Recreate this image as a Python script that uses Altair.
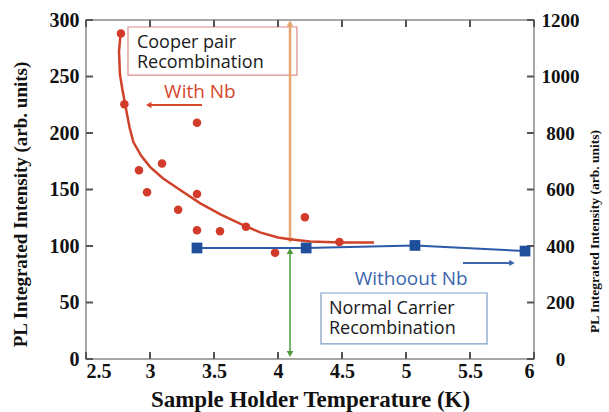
import altair as alt
import pandas as pd

# ---- data ----
with_nb_T = [2.773, 2.80, 2.914, 2.977, 3.094, 3.22, 3.367, 3.367, 3.367, 3.547, 3.75, 3.977, 4.21, 4.48]
with_nb_I = [288, 225.5, 167, 147.5, 173, 132, 209, 146, 114, 113, 117, 94, 125.5, 103.5]

fit_T = [2.770, 2.758, 2.765, 2.785, 2.805, 2.84, 2.87, 2.93, 3.0, 3.1, 3.23, 3.39, 3.55, 3.72, 3.86, 4.0, 4.09, 4.25, 4.5, 4.75]
fit_I = [288, 272, 252, 238, 226, 205, 192, 180, 170, 160, 150, 138, 128, 119, 112, 107.5, 106, 104, 103, 103]

without_nb_T = [3.367, 4.22, 5.07, 5.93]
without_nb_I = [393, 393, 402, 382]

x_ticks = [2.5, 3, 3.5, 4, 4.5, 5, 5.5, 6]
y_left_ticks = [0, 50, 100, 150, 200, 250, 300]
y_right_ticks = [0, 200, 400, 600, 800, 1000, 1200]

# annotations (data coordinates, left axis scale)
box_labels = ["cooper", "normal"]
box_x = [2.828, 4.336]
box_x2 = [4.148, 5.633]
box_y = [251.3, 13.3]
box_y2 = [293.8, 58.4]
box_colors = ["#D98C8A", "#7E9DC8"]

box_text = ["Cooper pair\nRecombination", "Normal Carrier\nRecombination"]
box_text_x = [2.898, 4.398]
box_text_y = [275.2, 39.8]

label_text = ["With Nb", "Withoout Nb"]
label_x = [3.39, 5.04]
label_y = [236, 70.8]
label_colors = ["#D6472C", "#3D66AE"]

varrow_x = [4.094, 4.094]
varrow_y = [105, 4.4]
varrow_y2 = [297, 95.6]
varrow_colors = ["#E8A470", "#4E9A3C"]
varrow_widths = [2.5, 1.5]

harrow_y = [224.8, 85]
harrow_x = [2.99, 5.445]
harrow_x2 = [3.406, 5.828]

# ---- tables ----
red_df = pd.DataFrame({"T": with_nb_T, "I": with_nb_I})
fit_df = pd.DataFrame({"T": fit_T, "I": fit_I, "o": list(range(len(fit_T)))})
blue_df = pd.DataFrame({"T": without_nb_T, "I": without_nb_I})
xt_df = pd.DataFrame({"xv": x_ticks})
yt_df = pd.DataFrame({"yv": y_left_ticks})

W, H, TL = 448, 339, 7
xs = alt.Scale(domain=[2.5, 6], nice=False, zero=False)
yl = alt.Scale(domain=[0, 300], nice=False)
yr = alt.Scale(domain=[0, 1200], nice=False)

serif = "Liberation Serif"
sans = "Open Sans"
frame = "#8a8a8a"
tickc = "#555555"

x_axis = alt.Axis(
    values=x_ticks, format="~g", title="Sample Holder Temperature (K)",
    labelFont=serif, labelFontSize=20, labelFontWeight="bold", labelColor="#111",
    labelPadding=2, ticks=False, domain=False, grid=False,
    titleFont=serif, titleFontSize=23, titleFontWeight="bold", titleColor="#111",
    titleBaseline="alphabetic", titleY=47,
)
y_left_axis = alt.Axis(
    values=y_left_ticks, title="PL Integrated Intensity (arb. units)", orient="left",
    labelFont=serif, labelFontSize=20, labelFontWeight="bold", labelColor="#111",
    labelPadding=7, ticks=False, domain=False, grid=False,
    titleFont=serif, titleFontSize=19, titleFontWeight="bold", titleColor="#111",
    titleAngle=270, titleBaseline="bottom", titleX=-56, titleY=184, titleAlign="center",
)
y_right_axis = alt.Axis(
    values=y_right_ticks, format="d", title="PL Integrated Intensity (arb. units)", orient="right",
    labelFont=serif, labelFontSize=19, labelFontWeight="bold", labelColor="#111",
    labelPadding=26, labelAlign="center", ticks=False, domain=False, grid=False,
    titleFont=serif, titleFontSize=13.5, titleFontWeight="bold", titleColor="#111",
    titleAngle=270, titleBaseline="bottom", titleX=67, titleY=211, titleAlign="center",
)

# inward tick marks (positions from the tick lists through the scales)
xt_bottom = alt.Chart(xt_df).mark_rule(color=tickc, strokeWidth=2).encode(
    x=alt.X("xv:Q", scale=xs, axis=x_axis), y=alt.value(H), y2=alt.value(H - TL))
xt_top = alt.Chart(xt_df).mark_rule(color=tickc, strokeWidth=2).encode(
    x=alt.X("xv:Q", scale=xs), y=alt.value(0), y2=alt.value(TL))
yt_left = alt.Chart(yt_df).mark_rule(color=tickc, strokeWidth=2).encode(
    y=alt.Y("yv:Q", scale=yl, axis=y_left_axis), x=alt.value(0), x2=alt.value(TL))
yt_right = alt.Chart(yt_df).mark_rule(color=tickc, strokeWidth=2).encode(
    y=alt.Y("yv:Q", scale=yl), x=alt.value(W), x2=alt.value(W - TL))

boxes_df = pd.DataFrame({"k": box_labels, "x": box_x, "x2": box_x2, "y": box_y, "y2": box_y2, "c": box_colors})
boxes = alt.Chart(boxes_df).mark_rect(fill="white", strokeWidth=1.2).encode(
    x=alt.X("x:Q", scale=xs), x2="x2:Q",
    y=alt.Y("y:Q", scale=yl), y2="y2:Q",
    stroke=alt.Stroke("c:N", scale=None),
)

btxt_df = pd.DataFrame({"t": box_text, "x": box_text_x, "y": box_text_y})
btxt = alt.Chart(btxt_df).mark_text(
    font=sans, fontSize=18, align="left", baseline="alphabetic", color="#1a1a1a",
    lineBreak="\n", lineHeight=20
).encode(x=alt.X("x:Q", scale=xs), y=alt.Y("y:Q", scale=yl), text="t:N")

ltxt_df = pd.DataFrame({"t": label_text, "x": label_x, "y": label_y, "c": label_colors})
ltxt = alt.Chart(ltxt_df).mark_text(
    font=sans, fontSize=19, align="center", baseline="middle"
).encode(x=alt.X("x:Q", scale=xs), y=alt.Y("y:Q", scale=yl), text="t:N",
         color=alt.Color("c:N", scale=None))

va_df = pd.DataFrame({"x": varrow_x, "y": varrow_y, "y2": varrow_y2, "c": varrow_colors, "w": varrow_widths})
va_rule = alt.Chart(va_df).mark_rule().encode(
    x=alt.X("x:Q", scale=xs), y=alt.Y("y:Q", scale=yl), y2="y2:Q",
    color=alt.Color("c:N", scale=None), strokeWidth=alt.StrokeWidth("w:Q", scale=None),
)
va_up = alt.Chart(va_df).mark_point(shape="triangle-up", filled=True, opacity=1, size=45).encode(
    x=alt.X("x:Q", scale=xs), y=alt.Y("y2:Q", scale=yl), color=alt.Color("c:N", scale=None))
va_down = alt.Chart(va_df).mark_point(shape="triangle-down", filled=True, opacity=1, size=45).encode(
    x=alt.X("x:Q", scale=xs), y=alt.Y("y:Q", scale=yl), color=alt.Color("c:N", scale=None))

ha_df = pd.DataFrame({"y": harrow_y, "x": harrow_x, "x2": harrow_x2, "c": label_colors,
                      "hx": [harrow_x[0], harrow_x2[1]], "s": ["triangle-left", "triangle-right"]})
ha_rule = alt.Chart(ha_df).mark_rule(strokeWidth=2).encode(
    x=alt.X("x:Q", scale=xs), x2="x2:Q", y=alt.Y("y:Q", scale=yl),
    color=alt.Color("c:N", scale=None))
ha_head = alt.Chart(ha_df).mark_point(filled=True, opacity=1, size=40).encode(
    x=alt.X("hx:Q", scale=xs), y=alt.Y("y:Q", scale=yl),
    color=alt.Color("c:N", scale=None), shape=alt.Shape("s:N", scale=None))

red_pts = alt.Chart(red_df).mark_circle(size=72, opacity=1, color="#D23B2A").encode(
    x=alt.X("T:Q", scale=xs), y=alt.Y("I:Q", scale=yl))
red_fit = alt.Chart(fit_df).mark_line(color="#CF4229", strokeWidth=2.5).encode(
    x=alt.X("T:Q", scale=xs), y=alt.Y("I:Q", scale=yl), order="o:Q")

left = alt.layer(xt_bottom, yt_left, boxes, btxt, ltxt,
                 va_rule, va_up, va_down, ha_rule, ha_head, red_fit, red_pts,
                 xt_top, yt_right)

blue_line = alt.Chart(blue_df).mark_line(color="#2C5AA8", strokeWidth=2).encode(
    x=alt.X("T:Q", scale=xs), y=alt.Y("I:Q", scale=yr, axis=y_right_axis))
blue_pts = alt.Chart(blue_df).mark_square(size=115, opacity=1, color="#1F4E9B").encode(
    x=alt.X("T:Q", scale=xs), y=alt.Y("I:Q", scale=yr))
right = alt.layer(blue_line, blue_pts)

chart = alt.layer(left, right).resolve_scale(y="independent").properties(
    width=W, height=H,
    padding={"left": 86, "top": 20, "right": 75, "bottom": 53},
    autosize=alt.AutoSizeParams(type="none"),
    background="white",
).configure_view(stroke=frame, strokeWidth=1.5)

chart.save("out.html", embed_options={"renderer": "svg", "actions": False})
